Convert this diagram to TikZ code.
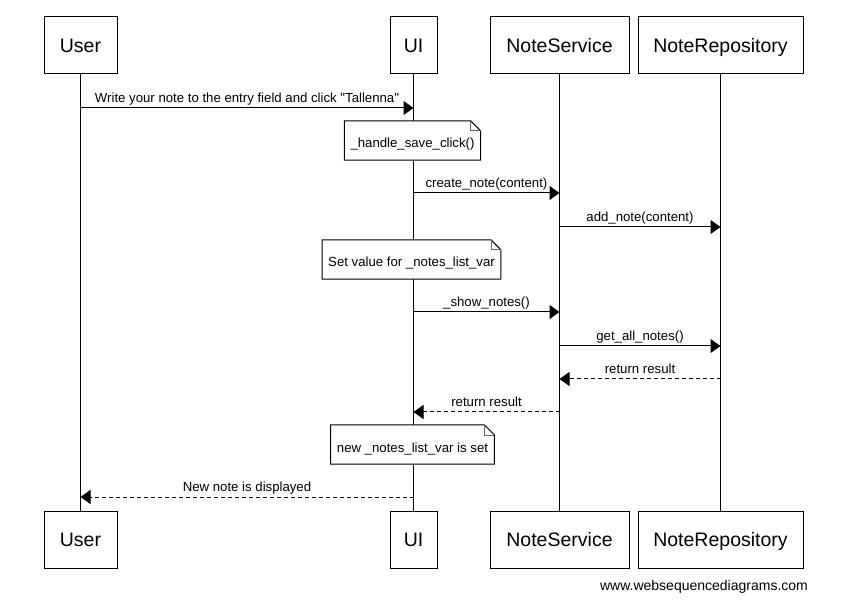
\documentclass[tikz,border=0pt]{standalone}
\usepackage{fontspec}
\setmainfont{Liberation Sans}[Ligatures=TeXOff]
\usetikzlibrary{arrows.meta, positioning, calc}

\begin{document}
\begin{tikzpicture}[
  x=1pt, y=-1pt,
  font=\fontsize{13.2}{15}\selectfont,
  actor/.style={draw, line width=1pt, fill=white, minimum height=57pt, inner xsep=2pt,
                text height=16pt, text depth=2pt, font=\fontsize{19.5}{22}\selectfont},
  lifeline/.style={line width=1pt},
  notebox/.style={fill=white, minimum height=39pt, inner xsep=6pt, text height=15pt, text depth=0pt},
  call/.style={-{Triangle[length=10pt, width=14pt]}, line width=1pt},
  reply/.style={-{Triangle[length=10pt, width=14pt]}, line width=1pt, dash pattern=on 4pt off 3pt},
  lbl/.style={midway, above, inner sep=2pt, text height=9.5pt, text depth=3pt}
]
\useasboundingbox (0,0) rectangle (852,612);

% participants
\node[actor, minimum width=73pt] (userTop) at (80.5,45.5) {User};
\node[actor, minimum width=47pt] (uiTop) at (413.5,45.5) {UI};
\node[actor, minimum width=139pt] (serviceTop) at (559.5,45.5) {NoteService};
\node[actor, minimum width=165pt] (repoTop) at (720.5,45.5) {NoteRepository};

\node[actor, minimum width=73pt] (userBot) at (80.5,539.5) {User};
\node[actor, minimum width=47pt] (uiBot) at (413.5,539.5) {UI};
\node[actor, minimum width=139pt] (serviceBot) at (559.5,539.5) {NoteService};
\node[actor, minimum width=165pt] (repoBot) at (720.5,539.5) {NoteRepository};

\draw[lifeline] (userTop) -- (userBot);
\draw[lifeline] (uiTop) -- (uiBot);
\draw[lifeline] (serviceTop) -- (serviceBot);
\draw[lifeline] (repoTop) -- (repoBot);

% message rows
\coordinate (m1) at (0,108);
\coordinate (m2) at (0,193);
\coordinate (m3) at (0,227);
\coordinate (m4) at (0,312);
\coordinate (m5) at (0,346);
\coordinate (m6) at (0,379);
\coordinate (m7) at (0,412);
\coordinate (m8) at (0,497);

\draw[call] (userTop |- m1) -- (uiTop |- m1)
  node[lbl] {Write your note to the entry field and click "Tallenna"};
\draw[call] (uiTop |- m2) -- (serviceTop |- m2) node[lbl] {create\_note(content)};
\draw[call] (serviceTop |- m3) -- (repoTop |- m3) node[lbl] {add\_note(content)};
\draw[call] (uiTop |- m4) -- (serviceTop |- m4) node[lbl] {\_show\_notes()};
\draw[call] (serviceTop |- m5) -- (repoTop |- m5) node[lbl] {get\_all\_notes()};
\draw[reply] (repoTop |- m6) -- (serviceTop |- m6) node[lbl] {return result};
\draw[reply] (serviceTop |- m7) -- (uiTop |- m7) node[lbl] {return result};
\draw[reply] (uiTop |- m8) -- (userTop |- m8) node[lbl] {New note is displayed};

% notes
\node[notebox] (handleNote) at (412.5,140.5) {\_handle\_save\_click()};
\node[notebox] (setNote) at (411.5,259.5) {Set value for \_notes\_list\_var};
\node[notebox] (newNote) at (412.5,444.5) {new \_notes\_list\_var is set};
\foreach \n in {handleNote, setNote, newNote} {
  \draw[line width=1pt] (\n.south west) -- (\n.north west) -- ([xshift=-10pt]\n.north east)
    -- ([yshift=-10pt]\n.north east) -- (\n.south east) -- cycle;
  \draw[line width=0.6pt, black!60] ([xshift=-10pt]\n.north east) |- ([yshift=-10pt]\n.north east);
}

\node[font=\fontsize{14}{16}\selectfont] (footer) at (704,587) {www.websequencediagrams.com};
\end{tikzpicture}
\end{document}
